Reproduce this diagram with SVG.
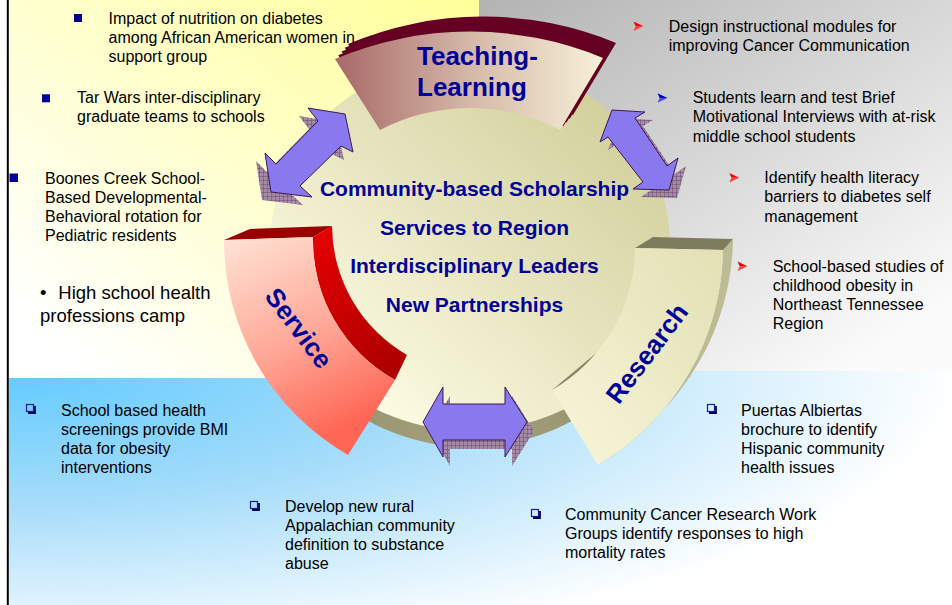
<svg xmlns="http://www.w3.org/2000/svg" width="952" height="605" viewBox="0 0 952 605">
<style>
.t{font-family:"Liberation Sans",Arial,Helvetica,sans-serif;font-size:16px;fill:#000}
.big{font-size:18.5px}
.c{font-family:"Liberation Sans",Arial,sans-serif;font-weight:bold;font-size:21px;fill:#000099;text-anchor:middle}
.seg{font-family:"Liberation Sans",Arial,sans-serif;font-weight:bold;font-size:26px;fill:#000099}
.arrow{fill:#8a78ee;stroke:#3a1a4e;stroke-width:1;stroke-linejoin:miter}
.shadow{fill:url(#hatch)}
.sq{fill:#000099}
.hq{fill:none;stroke:#1c1c94;stroke-width:1.2}
.hqs{fill:none;stroke:#00005e;stroke-width:1.8}
.dr1{fill:#ee0000}.dr2{fill:#ff4040}
.db1{fill:#0000bb}.db2{fill:#4a4aff}
</style>
<defs>
<radialGradient id="gBlue" gradientUnits="userSpaceOnUse" cx="0" cy="0" r="1" gradientTransform="translate(10,372) scale(950,290)">
<stop offset="0" stop-color="#63cbff"/><stop offset="0.45" stop-color="#a5dcfa"/><stop offset="1" stop-color="#ffffff"/>
</radialGradient>
<linearGradient id="gYellow" gradientUnits="userSpaceOnUse" x1="479" y1="0" x2="150" y2="420">
<stop offset="0" stop-color="#ffff99"/><stop offset="1" stop-color="#ffffff"/>
</linearGradient>
<linearGradient id="gGray" gradientUnits="userSpaceOnUse" x1="479" y1="0" x2="760" y2="430">
<stop offset="0" stop-color="#b3b3b3"/><stop offset="1" stop-color="#fbfbfb"/>
</linearGradient>
<linearGradient id="gDisk" x1="0.9" y1="0.1" x2="0.15" y2="0.9">
<stop offset="0" stop-color="#d0ce98"/><stop offset="0.5" stop-color="#e6e4bf"/><stop offset="1" stop-color="#fffde5"/>
</linearGradient>
<linearGradient id="gBand" x1="0" y1="0" x2="1" y2="0">
<stop offset="0" stop-color="#8e8c68"/><stop offset="0.5" stop-color="#a5a27c"/><stop offset="1" stop-color="#8e8c68"/>
</linearGradient>
<linearGradient id="gTeach" x1="0" y1="0" x2="1" y2="0">
<stop offset="0" stop-color="#a86868"/><stop offset="0.5" stop-color="#d4b8a8"/><stop offset="1" stop-color="#f7f0d8"/>
</linearGradient>
<linearGradient id="gServ" x1="0" y1="0" x2="0.4" y2="1">
<stop offset="0" stop-color="#ffe4d6"/><stop offset="0.55" stop-color="#ffa898"/><stop offset="1" stop-color="#ff6655"/>
</linearGradient>
<linearGradient id="gServSide" x1="0" y1="0" x2="0.6" y2="1">
<stop offset="0" stop-color="#e80000"/><stop offset="1" stop-color="#b00000"/>
</linearGradient>
<linearGradient id="gRes" x1="1" y1="0" x2="0" y2="1">
<stop offset="0" stop-color="#e2e0b4"/><stop offset="1" stop-color="#f8f6da"/>
</linearGradient>
<pattern id="hatch" width="4" height="4" patternUnits="userSpaceOnUse">
<rect width="4" height="4" fill="#a58aa5"/><path d="M0,0H4M0,0V4" stroke="#5b3b5e" stroke-width="0.8"/>
</pattern>
<path id="tshape" d="M335,59 A347,347 0 0 1 603,58 L560,130 A195,195 0 0 0 380,130 Z"/>
<polygon id="arUL" points="345,114 353,152 341,146 300,186 312,197 271,192 265,153 276,164 318,121 308,108"/>
<polygon id="arUR" points="612,110 645,112 635,118 667,166 678,158 669,190 633,189 643,182 608,137 600,142"/>
<polygon id="arB" points="423,422 443,387 443,404 505,404 505,387 527,422 505,457 505,440 443,440 443,457"/>
<g id="dartR"><path class="dr1" d="M0,0 L10,4.75 L2.2,4.75 Z"/><path class="dr2" d="M2.2,4.75 L10,4.75 L0,9.5 Z"/></g>
<g id="dartB"><path class="db1" d="M0,0 L10,4.75 L2.2,4.75 Z"/><path class="db2" d="M2.2,4.75 L10,4.75 L0,9.5 Z"/></g>
</defs>

<g id="background">
<rect x="0" y="0" width="952" height="605" fill="#ffffff"/>
<rect x="9" y="371" width="943" height="234" fill="url(#gBlue)"/>
<rect x="9" y="0" width="470" height="378" fill="url(#gYellow)"/>
<rect x="479" y="0" width="473" height="371" fill="url(#gGray)"/>
<line x1="7.8" y1="0" x2="7.8" y2="605" stroke="#000" stroke-width="2"/>
</g>

<g id="hub">
<ellipse cx="470" cy="261" rx="199" ry="186" fill="url(#gBand)"/>
<ellipse cx="470" cy="245" rx="200" ry="186" fill="url(#gDisk)"/>
</g>

<g id="teaching">
<use href="#tshape" fill="#660022" transform="translate(3.25,-3.75)"/>
<use href="#tshape" fill="#660022" transform="translate(6.5,-7.5)"/>
<use href="#tshape" fill="#660022" transform="translate(9.75,-11.25)"/>
<use href="#tshape" fill="#660022" transform="translate(13,-15)"/>
<use href="#tshape" fill="url(#gTeach)"/>
<text class="seg" x="417" y="65">Teaching-</text>
<text class="seg" x="417" y="96">Learning</text>
</g>

<g id="service">
<path d="M224,240 L250,229 L332,226 L313,237 Z" fill="#990000"/>
<path d="M313,237 L332,226 A150,150 0 0 0 407,355 L395,380 A160,160 0 0 1 313,237 Z" fill="url(#gServSide)"/>
<path d="M224,240 A247,247 0 0 0 348,455 L395,380 A160,160 0 0 1 313,237 Z" fill="url(#gServ)"/>
<text class="seg" text-anchor="middle" transform="translate(291.7,333.5) rotate(53)">Service</text>
</g>

<g id="research">
<path d="M552,390 L595,354 L600,358 L556,390 Z" fill="#8a8866"/>
<path d="M723,250 L733,239 A254,254 0 0 1 608,454 L598,465 A254,254 0 0 0 723,250 Z" fill="#bdbb94"/>
<path d="M635,248 L653,237 L733,239 L723,250 Z" fill="#7e7c5e"/>
<path d="M635,248 L723,250 A254,254 0 0 1 598,465 L552,390 A165,165 0 0 0 635,248 Z" fill="url(#gRes)"/>
<text class="seg" text-anchor="middle" transform="translate(654,358.8) rotate(-53)">Research</text>
</g>

<g id="connectors">
<use href="#arUL" class="shadow" transform="translate(-9,8)"/>
<use href="#arUL" class="arrow"/>
<use href="#arUR" class="shadow" transform="translate(8,8)"/>
<use href="#arUR" class="arrow"/>
<use href="#arB" class="shadow" transform="translate(7,9)"/>
<use href="#arB" class="arrow"/>
</g>

<g id="center-text">
<text class="c" x="474.5" y="196">Community-based Scholarship</text>
<text class="c" x="474.5" y="234.5">Services to Region</text>
<text class="c" x="474.5" y="273">Interdisciplinary Leaders</text>
<text class="c" x="474.5" y="311.5">New Partnerships</text>
</g>

<g id="item-nutrition">
<rect class="sq" x="74" y="14" width="8" height="8"/>
<text class="t"><tspan x="108.5" y="23.8">Impact of nutrition on diabetes</tspan><tspan x="108.5" y="42.8">among African American women in</tspan><tspan x="108.5" y="61.8">support group</tspan></text>
</g>
<g id="item-tarwars">
<rect class="sq" x="42" y="94.3" width="8" height="8"/>
<text class="t"><tspan x="77" y="103.2">Tar Wars inter-disciplinary</tspan><tspan x="77" y="122.2">graduate teams to schools</tspan></text>
</g>
<g id="item-boones">
<rect class="sq" x="9.5" y="173.5" width="8.5" height="8.5"/>
<text class="t"><tspan x="45" y="183.8">Boones Creek School-</tspan><tspan x="45" y="202.8">Based Developmental-</tspan><tspan x="45" y="221.8">Behavioral rotation for</tspan><tspan x="45" y="240.8">Pediatric residents</tspan></text>
</g>
<g id="item-camp">
<text class="t big"><tspan x="40" y="298.5">•</tspan><tspan x="58.3" y="298.5">High school health</tspan><tspan x="40" y="321.5">professions camp</tspan></text>
</g>

<g id="item-design">
<use href="#dartR" transform="translate(633.5,21.5)"/>
<text class="t"><tspan x="668.7" y="31.5">Design instructional modules for</tspan><tspan x="668.7" y="50.5">improving Cancer Communication</tspan></text>
</g>
<g id="item-students">
<use href="#dartB" transform="translate(657.5,93.3)"/>
<text class="t"><tspan x="692.7" y="103.2">Students learn and test Brief</tspan><tspan x="692.7" y="122.4">Motivational Interviews with at-risk</tspan><tspan x="692.7" y="141.6">middle school students</tspan></text>
</g>
<g id="item-literacy">
<use href="#dartR" transform="translate(729.3,173)"/>
<text class="t"><tspan x="764.3" y="183.2">Identify health literacy</tspan><tspan x="764.3" y="202.4">barriers to diabetes self</tspan><tspan x="764.3" y="221.6">management</tspan></text>
</g>
<g id="item-obesity">
<use href="#dartR" transform="translate(737.5,261.5)"/>
<text class="t"><tspan x="772.7" y="271.5">School-based studies of</tspan><tspan x="772.7" y="290.5">childhood obesity in</tspan><tspan x="772.7" y="309.5">Northeast Tennessee</tspan><tspan x="772.7" y="328.5">Region</tspan></text>
</g>

<g id="item-screenings">
<rect class="hq" x="26.5" y="404.5" width="7" height="7"/><path class="hqs" d="M35,406 V413 H28"/>
<text class="t"><tspan x="61" y="415.5">School based health</tspan><tspan x="61" y="434.5">screenings provide BMI</tspan><tspan x="61" y="453.5">data for obesity</tspan><tspan x="61" y="472.5">interventions</tspan></text>
</g>
<g id="item-appalachian">
<rect class="hq" x="250.5" y="501.5" width="7" height="7"/><path class="hqs" d="M259,503 V510 H252"/>
<text class="t"><tspan x="285" y="511.5">Develop new rural</tspan><tspan x="285" y="530.5">Appalachian community</tspan><tspan x="285" y="549.5">definition to substance</tspan><tspan x="285" y="568.5">abuse</tspan></text>
</g>
<g id="item-cancer">
<rect class="hq" x="531.5" y="509.5" width="7" height="7"/><path class="hqs" d="M540,511 V518 H533"/>
<text class="t"><tspan x="565" y="519.5">Community Cancer Research Work</tspan><tspan x="565" y="538.5">Groups identify responses to high</tspan><tspan x="565" y="557.5">mortality rates</tspan></text>
</g>
<g id="item-puertas">
<rect class="hq" x="707.5" y="404.5" width="7" height="7"/><path class="hqs" d="M716,406 V413 H709"/>
<text class="t"><tspan x="741" y="415.5">Puertas Albiertas</tspan><tspan x="741" y="434.5">brochure to identify</tspan><tspan x="741" y="453.5">Hispanic community</tspan><tspan x="741" y="472.5">health issues</tspan></text>
</g>
</svg>
